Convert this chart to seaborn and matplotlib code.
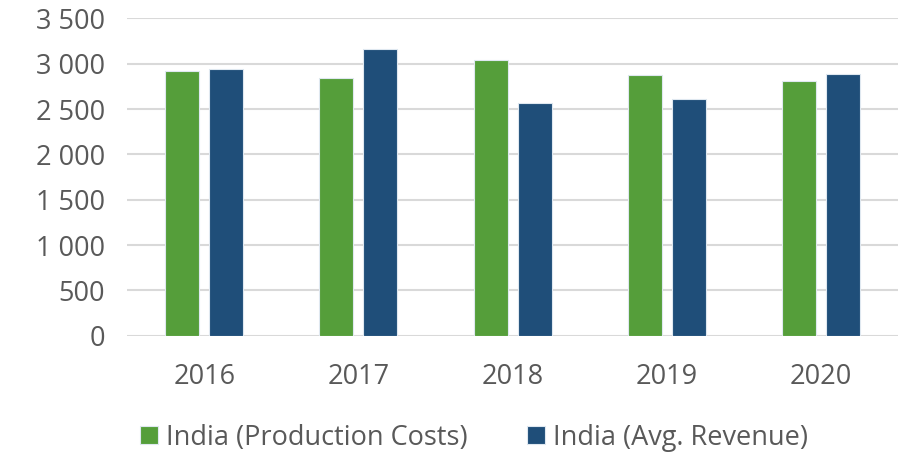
import matplotlib
matplotlib.use('Agg')
import matplotlib.pyplot as plt
import seaborn as sns
import pandas as pd
from matplotlib.ticker import FuncFormatter

# data
years = ['2016', '2017', '2018', '2019', '2020']
production_costs = [2917, 2847, 3039, 2873, 2810]
avg_revenue = [2946, 3160, 2564, 2608, 2887]
series_names = ['India (Production Costs)', 'India (Avg. Revenue)']
colors = ['#559e3a', '#1f4e79']

df = pd.DataFrame({
    'year': years * 2,
    'value': production_costs + avg_revenue,
    'series': [series_names[0]] * len(years) + [series_names[1]] * len(years),
})

sns.set_theme(style='white')
plt.rcParams['font.family'] = ['Open Sans', 'DejaVu Sans']
text_color = '#595959'

fig = plt.figure(figsize=(9.1, 4.58), dpi=100)
ax = fig.add_axes([0.1396, 0.267, 0.8474, 0.693])

sns.barplot(data=df, x='year', y='value', hue='series', palette=colors,
            saturation=1, width=0.571, gap=0.227, edgecolor='#dfe8f0',
            linewidth=0.8, ax=ax, zorder=3)

ax.set_ylim(0, 3500)
ax.set_yticks(range(0, 3501, 500))
ax.yaxis.set_major_formatter(FuncFormatter(lambda v, p: f'{int(v):,}'.replace(',', ' ')))
ax.grid(axis='y', color='#d9d9d9', linewidth=1.5, zorder=0)
ax.set_axisbelow(True)
for s in ax.spines.values():
    s.set_visible(False)
ax.set_xlabel('')
ax.set_ylabel('')
ax.tick_params(axis='both', length=0, labelsize=19.5, colors=text_color)
ax.tick_params(axis='x', pad=20)
ax.tick_params(axis='y', pad=16)

ax.legend(loc='upper center', bbox_to_anchor=(0.45, -0.2), ncol=2, frameon=False,
          fontsize=19.5, labelcolor=text_color, handlelength=0.65, handleheight=0.65,
          handletextpad=0.3, columnspacing=2.2)

fig.savefig('out.png', dpi=100)
